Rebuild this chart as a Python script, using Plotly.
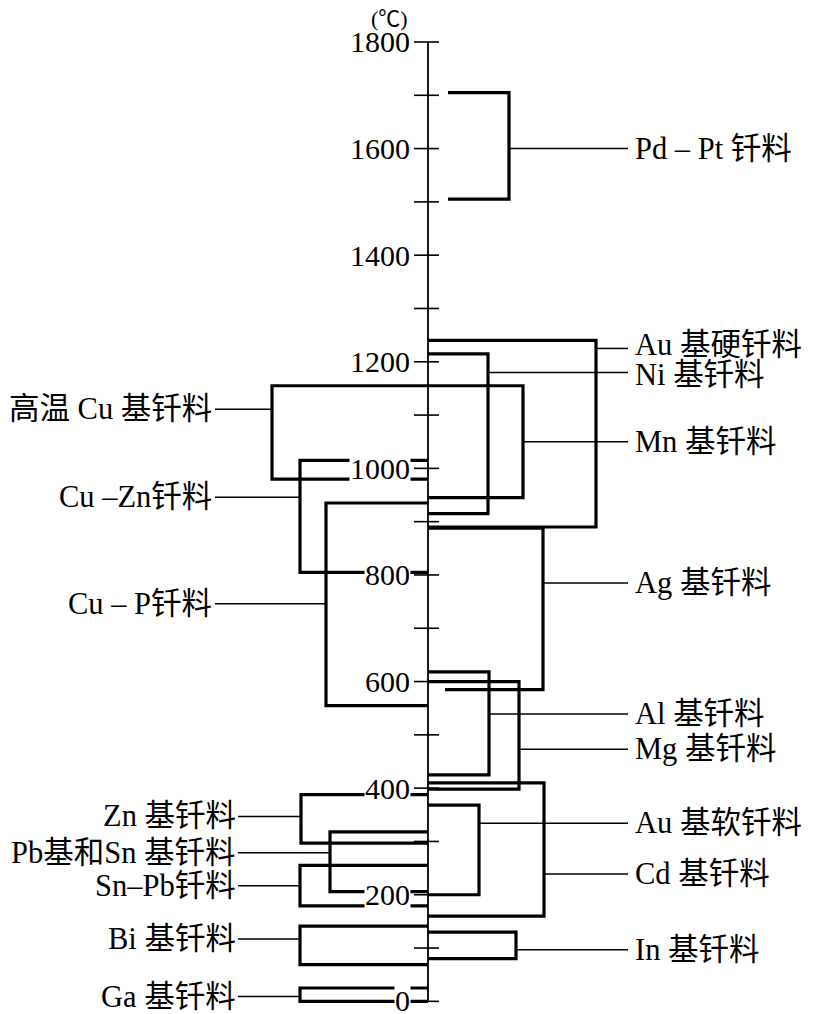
import plotly.graph_objects as go

# ---------------- data (temperature ranges, °C) ----------------
names = ["Pd – Pt 钎料", "Au 基硬钎料", "Ni 基钎料", "Mn 基钎料", "Ag 基钎料",
         "Al 基钎料", "Mg 基钎料", "Au 基软钎料", "Cd 基钎料", "In 基钎料",
         "高温 Cu 基钎料", "Cu –Zn钎料", "Cu – P钎料", "Zn 基钎料",
         "Pb基和Sn 基钎料", "Sn–Pb钎料", "Bi 基钎料", "Ga 基钎料"]
t_high = [1705, 1240, 1215, 1155, 888, 618, 600, 368, 410, 130,
          1155, 1015, 935, 388, 318, 255, 141, 25]
t_low = [1505, 890, 915, 945, 585, 425, 398, 200, 160, 80,
         980, 805, 555, 297, 206, 179, 69, 0]
label_t = [1600, 1225, 1180, 1050, 785, 539, 473, 334, 239, 97,
           1111, 946, 746, 347, 279, 217, 117, 9]

tick_vals = list(range(0, 1801, 100))
tick_labels = ["0", "200", "400", "600", "800", "1000", "1200", "1400", "1600", "1800"]
unit_label = "(℃)"

# ---------------- layout / style (horizontal positions in page pixels) ----------------
PAGE_W, PAGE_H = 813, 1014
OFF = 8                      # default page margin around the figure
W, H = PAGE_W - OFF, PAGE_H - OFF
TOP, BOT = 26 - OFF, 2
AXIS_X = 428
side = ["R"] * 10 + ["L"] * 8
bracket_x = [509, 596, 488, 523, 543, 489, 519, 479, 544, 516,
             272, 300, 326, 301, 330, 300, 300, 300]
start_top = [448] + [AXIS_X] * 17
start_bot = [448, AXIS_X, AXIS_X, AXIS_X, 445] + [AXIS_X] * 13
leader_end = [628] * 10 + [215, 215, 215, 238, 238, 238, 238, 238]
text_x = [634] * 10 + [213, 213, 213, 237, 237, 237, 237, 237]
text_shift = [0, 3, -3, 0, 0, 0, 0, 0, 0, 0, 0, 0, 0, 0, 0, 0, 0, 0]

FONT = "Liberation Serif, Times New Roman, Noto Sans CJK SC, serif"
YR = [-20, 1830]

fig = go.Figure()

# brackets
bx, by = [], []
for i in range(len(names)):
    bx += [start_top[i], bracket_x[i], bracket_x[i], start_bot[i], None]
    by += [t_high[i], t_high[i], t_low[i], t_low[i], None]
fig.add_trace(go.Scatter(x=bx, y=by, mode="lines",
                         line=dict(color="black", width=3.2),
                         hoverinfo="skip", showlegend=False))

# leader lines
lx, ly = [], []
for i in range(len(names)):
    lx += [bracket_x[i], leader_end[i], None]
    ly += [label_t[i], label_t[i], None]
fig.add_trace(go.Scatter(x=lx, y=ly, mode="lines",
                         line=dict(color="black", width=1.5),
                         hoverinfo="skip", showlegend=False))

# axis line and ticks (crossing the axis)
fig.add_trace(go.Scatter(x=[AXIS_X, AXIS_X], y=[0, 1800], mode="lines",
                         line=dict(color="black", width=1.8),
                         hoverinfo="skip", showlegend=False))
kx, ky = [], []
for v in tick_vals:
    kx += [414, 439, None]
    ky += [v, v, None]
fig.add_trace(go.Scatter(x=kx, y=ky, mode="lines",
                         line=dict(color="black", width=1.6),
                         hoverinfo="skip", showlegend=False))

annotations = []
# tick labels (white box hides lines passing through them)
for v, t in zip(range(0, 1801, 200), tick_labels):
    annotations.append(dict(x=411, y=v, xref="x", yref="y", text=t,
                            showarrow=False, xanchor="right", yanchor="middle",
                            yshift=1 if v == 0 else 0,
                            bgcolor="white", borderpad=0,
                            font=dict(family=FONT, size=30, color="black")))
# unit, above the plot area
plot_h = H - TOP - BOT
annotations.append(dict(x=389, y=1 + (TOP - 11) / plot_h, xref="x", yref="paper",
                        text=unit_label, showarrow=False,
                        xanchor="center", yanchor="middle",
                        font=dict(family=FONT, size=22, color="black")))
# series labels
for i, n in enumerate(names):
    annotations.append(dict(x=text_x[i], y=label_t[i], xref="x", yref="y", text=n,
                            showarrow=False, yshift=text_shift[i],
                            xanchor="left" if side[i] == "R" else "right",
                            yanchor="middle", borderpad=0,
                            font=dict(family=FONT, size=30.5, color="black")))

fig.update_layout(
    width=W, height=H,
    margin=dict(l=0, r=0, t=TOP, b=BOT, autoexpand=False),
    paper_bgcolor="white", plot_bgcolor="white",
    xaxis=dict(range=[OFF, PAGE_W], visible=False, fixedrange=True),
    yaxis=dict(range=YR, visible=False, fixedrange=True),
    annotations=annotations,
    showlegend=False,
)

fig.write_html("out.html")
